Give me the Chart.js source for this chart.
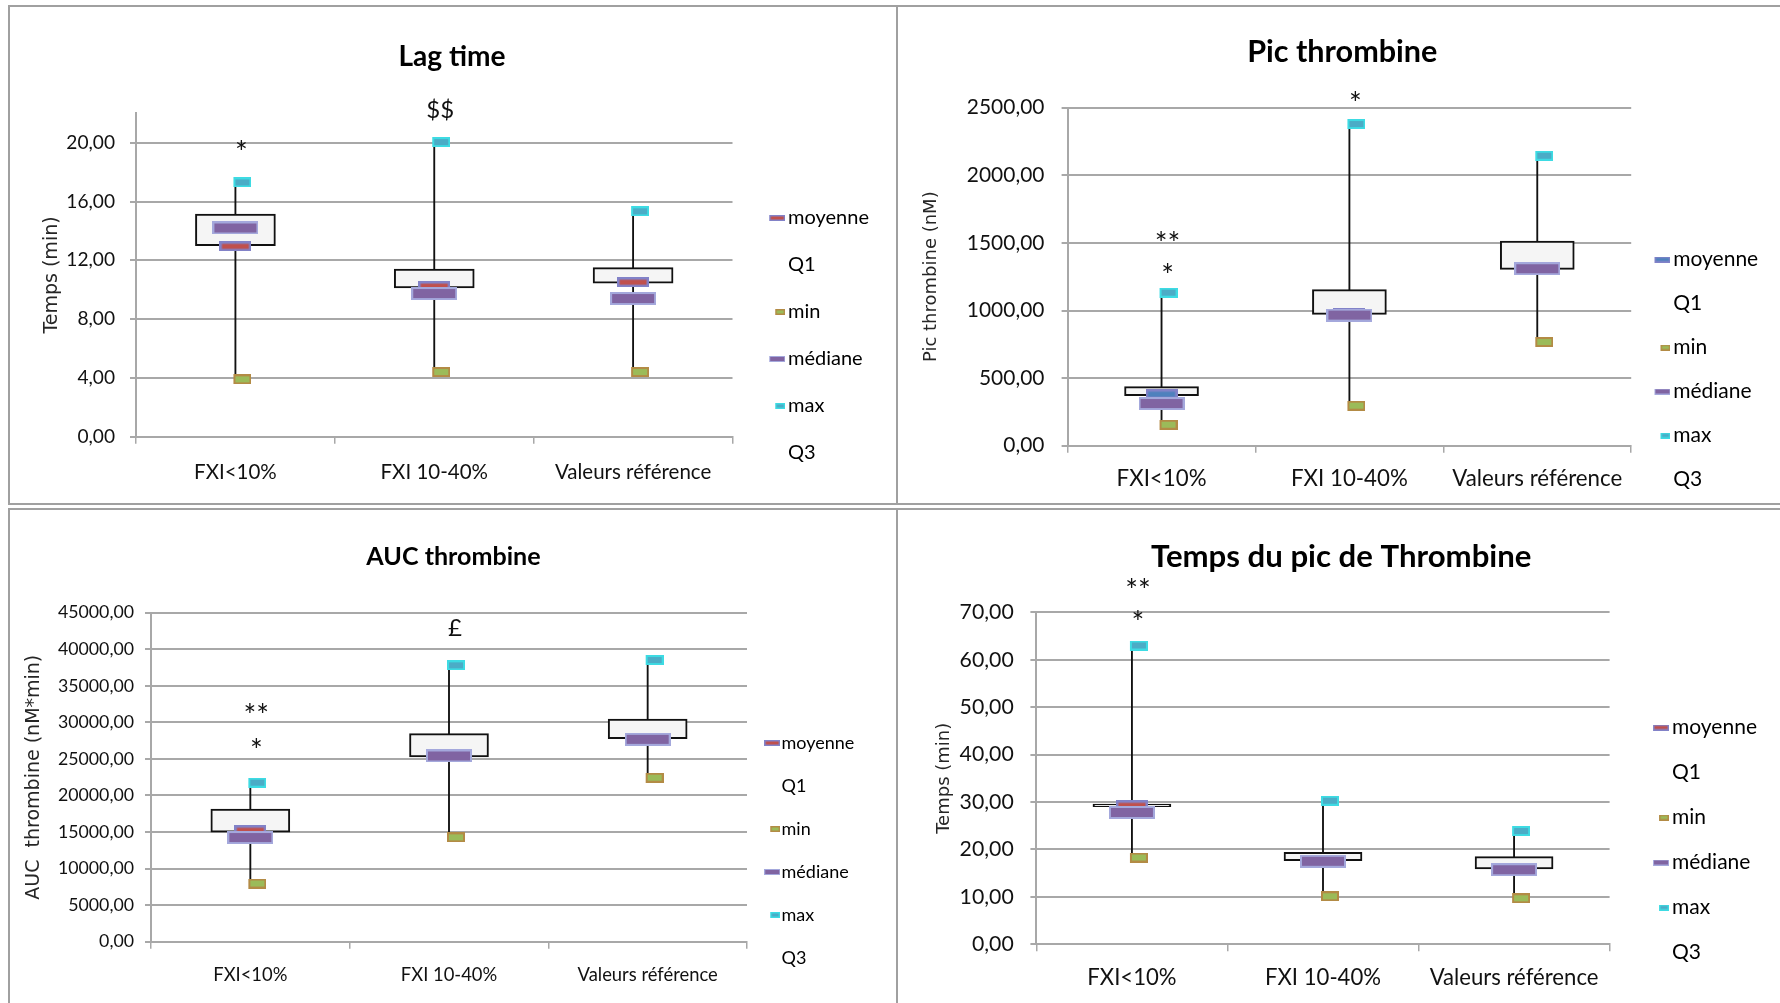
<!DOCTYPE html>
<html>
  <head>
    <meta charset="utf-8">
    <title>Génération de thrombine</title>
    <style>
      body {
        margin: 0;
        width: 1780px;
        height: 1003px;
        overflow: hidden;
        position: relative;
        background: #fff;
      }
      .panel {
        position: absolute;
        overflow: hidden;
      }
      .panel canvas {
        position: absolute;
        left: 0;
        top: 0;
      }
      .frame {
        position: absolute;
        box-sizing: border-box;
        border: 2px solid #a0a0a0;
        pointer-events: none;
      }
    </style>
  </head>
  <body>
    <div class="panel" style="left:9px;top:6px;width:888px;height:498px"><canvas id="lag"></canvas></div>
    <div class="panel" style="left:897px;top:6px;width:901px;height:498px"><canvas id="pic"></canvas></div>
    <div class="panel" style="left:9px;top:509px;width:888px;height:500px"><canvas id="auc"></canvas></div>
    <div class="panel" style="left:897px;top:509px;width:901px;height:500px"><canvas id="ttp"></canvas></div>
    <div class="frame" style="left:8px;top:5px;width:890px;height:500px"></div>
    <div class="frame" style="left:896px;top:5px;width:900px;height:500px"></div>
    <div class="frame" style="left:8px;top:508px;width:890px;height:600px"></div>
    <div class="frame" style="left:896px;top:508px;width:900px;height:600px"></div>

    <script src="https://cdn.jsdelivr.net/npm/chart.js@4.4.1/dist/chart.umd.min.js"></script>
    <script>
      const categories = ['FXI<10%', 'FXI 10-40%', 'Valeurs référence'];
      const legendNames = ['moyenne', 'Q1', 'min', 'médiane', 'max', 'Q3'];

      // Lag time (min)
      const lagMin = [3.9, 4.4, 4.4];
      const lagQ1 = [13.0, 10.12, 10.44];
      const lagQ3 = [15.15, 11.41, 11.5];
      const lagMax = [17.3, 20.04, 15.33];
      const lagMean = [12.95, 10.24, 10.51];
      const lagMedian = [14.2, 9.74, 9.4];
      const lagNoteCat = [0, 1];
      const lagNoteText = ['*', '$$'];
      const lagNoteY = [19.77, 22.3];

      // Pic thrombine (nM)
      const picMin = [155, 296, 767];
      const picQ1 = [370, 971, 1304];
      const picQ3 = [437, 1154, 1514];
      const picMax = [1132, 2379, 2145];
      const picMean = [381, 979, 1324];
      const picMedian = [312, 966, 1309];
      const picNoteCat = [0, 0, 1];
      const picNoteText = ['**', '*', '*'];
      const picNoteY = [1546, 1312, 2581];

      // AUC thrombine (nM*min)
      const aucMin = [7960, 14270, 22430];
      const aucQ1 = [14970, 25260, 27770];
      const aucQ3 = [18150, 28450, 30460];
      const aucMax = [21750, 37800, 38530];
      const aucMean = [15240, 25440, 27720];
      const aucMedian = [14250, 25400, 27680];
      const aucNoteCat = [0, 0, 1];
      const aucNoteText = ['**', '*', '£'];
      const aucNoteY = [31830, 27140, 42950];

      // Temps du pic (min)
      const ttpMin = [18.3, 10.12, 9.7];
      const ttpQ1 = [29.0, 17.63, 15.87];
      const ttpQ3 = [29.55, 19.39, 18.47];
      const ttpMax = [63.0, 30.27, 23.88];
      const ttpMean = [29.3, 17.6, 15.8];
      const ttpMedian = [27.8, 17.5, 15.73];
      const ttpNoteCat = [0, 0];
      const ttpNoteText = ['**', '*'];
      const ttpNoteY = [76.0, 69.2];

      const LATO = "Lato, 'Liberation Sans', sans-serif";
      const WIDE = "'DejaVu Sans', Verdana, sans-serif";
      const INK = '#111';
      const GRID = '#a8a8a8';
      const PURPLE = '#8064a2';
      const PURPLE_EDGE = '#a4a8dc';
      const MEAN_EDGE = '#8282c8';
      const RED = '#c0504d';
      const BLUE = '#4f81bd';
      const MAX_FILL = '#4bacc6';
      const MAX_EDGE = '#3ddbe3';
      const MIN_FILL = '#9bbb59';
      const MIN_EDGE = '#b38b45';

      const measurer = document.createElement('canvas').getContext('2d');
      // font size that gives `text` the width seen in the picture
      function fitSize(text, weight, target) {
        measurer.font = (weight ? weight + ' ' : '') + '100px ' + LATO;
        return 100 * target / measurer.measureText(text).width;
      }

      function rectImg(w, h, fill, stroke, lw, shift) {
        const c = document.createElement('canvas');
        c.width = w + 2 * shift;
        c.height = h;
        const g = c.getContext('2d');
        const x0 = 2 * shift;
        g.fillStyle = stroke;
        g.fillRect(x0, 0, w, h);
        g.fillStyle = fill;
        g.fillRect(x0 + lw, lw, w - 2 * lw, h - 2 * lw);
        return c;
      }

      function legImg(w, h, fill, stroke, lw, imgW) {
        const c = document.createElement('canvas');
        c.width = imgW;
        c.height = h;
        if (!fill) return c;
        const g = c.getContext('2d');
        const x0 = imgW - w;
        g.fillStyle = stroke;
        g.fillRect(x0, 0, w, h);
        g.fillStyle = fill;
        g.fillRect(x0 + lw, lw, w - 2 * lw, h - 2 * lw);
        return c;
      }

      const notesPlugin = {
        id: 'notes',
        afterDatasetsDraw(chart, args, opts) {
          const {ctx} = chart;
          const x = chart.scales.x, y = chart.scales.y;
          ctx.save();
          ctx.fillStyle = INK;
          ctx.textAlign = 'center';
          ctx.textBaseline = 'alphabetic';
          opts.cats.forEach((c, i) => {
            const t = opts.texts[i];
            const star = t.includes('*');
            const size = star ? 30 : 24;
            ctx.font = size + 'px ' + LATO;
            const lift = star ? 0.58 : 0.36;
            ctx.fillText(t, x.getPixelForValue(c) + opts.dx, y.getPixelForValue(opts.values[i]) + lift * size);
          });
          ctx.restore();
        }
      };

      function boxChart(id, d, g) {
        const canvas = document.getElementById(id);
        canvas.width = g.W;
        canvas.height = g.H;
        const titleSize = 1.04 * fitSize(d.title, 'bold', g.titleW);
        const tickSize = 1.06 * fitSize(g.tickText, '', g.tickW);
        const catSize = 1.04 * fitSize(categories[2], '', g.catW);
        const fs = Math.round(fitSize('moyenne', '', g.legendW));

        const m = canvas.getContext('2d');
        m.font = fs + 'px ' + LATO;
        const textW = Math.max(m.measureText('moyenne').width, m.measureText('médiane').width);
        const half = fs / 2;
        const pad = g.legendStep - fs;
        const bw = Math.max(0.5, g.legendX - g.right - pad - half);
        const legendW = 10 + pad + bw + half + textW;
        const padRight = g.W - g.right - legendW;
        const padLeft = 2 * g.titleX - g.right - legendW;
        const padBottom = Math.round(g.H - (g.legendLast + pad + half));
        const axisW = g.left - padLeft;
        const axisH = g.H - padBottom - g.bottom;
        const tLH = 1.2 * titleSize;

        const imgW = Math.max(16, Math.round(bw + fs - 6));
        const legendImgs = [
          legImg(16, 6, g.meanFill, MEAN_EDGE, 1.5, imgW),
          legImg(16, 6, null, null, 0, imgW),
          legImg(10, 6, MIN_FILL, MIN_EDGE, 1.5, imgW),
          legImg(16, 6, PURPLE, PURPLE_EDGE, 1, imgW),
          legImg(10, 6, MAX_FILL, MAX_EDGE, 1.5, imgW),
          legImg(16, 6, null, null, 0, imgW)
        ];

        const point = (label, data, img, order) => ({
          type: 'line', label, data, showLine: false,
          pointStyle: img, pointRadius: 6, order, clip: false
        });

        return new Chart(canvas, {
          type: 'bar',
          data: {
            labels: categories,
            datasets: [
              { type: 'bar', label: 'whisker', data: d.min.map((v, i) => [v, d.max[i]]),
                backgroundColor: '#111', barThickness: 1.2, grouped: false, order: 10 },
              { type: 'bar', label: 'box', data: d.q1.map((v, i) => [v, d.q3[i]]),
                backgroundColor: '#f5f5f5', borderColor: '#111', borderWidth: 2,
                borderSkipped: false, barThickness: g.boxW, grouped: false, order: 9 },
              point('min', d.min, rectImg(18, 10, MIN_FILL, MIN_EDGE, 2, 7), 4),
              point('max', d.max, rectImg(18, 10, MAX_FILL, MAX_EDGE, 2, 7), 3),
              point('moyenne', d.mean, rectImg(32, 10, g.meanFill, MEAN_EDGE, 2.5, 0), 2),
              point('médiane', d.median, rectImg(46, 13, PURPLE, PURPLE_EDGE, 2, 0), 1)
            ]
          },
          options: {
            responsive: false,
            animation: false,
            events: [],
            devicePixelRatio: 1,
            layout: { padding: { left: padLeft, right: padRight, top: 0, bottom: padBottom } },
            scales: {
              x: {
                offset: true,
                grid: { offset: true, drawOnChartArea: false, color: GRID, lineWidth: 1.5, tickLength: 7 },
                border: { color: GRID, width: 2 },
                ticks: {
                  font: { family: LATO, size: catSize }, color: INK,
                  padding: g.catY - g.bottom - 7 - 0.6 * catSize,
                  maxRotation: 0, autoSkip: false
                },
                afterFit: s => { s.height = axisH; }
              },
              y: {
                min: 0,
                max: d.yMax,
                grid: { color: GRID, lineWidth: 2, tickLength: 6 },
                border: { color: GRID, width: 2 },
                ticks: {
                  stepSize: d.yStep, includeBounds: false,
                  font: { family: LATO, size: tickSize }, color: INK,
                  padding: g.yTickGap - 6,
                  callback: v => v.toFixed(2).replace('.', ',')
                },
                title: {
                  display: true, text: d.yTitle, color: '#262626',
                  font: { family: WIDE, size: g.yTitleSize },
                  padding: { top: g.yTitleX - padLeft - 0.6 * g.yTitleSize, bottom: 0 }
                },
                afterFit: s => { s.width = axisW; }
              }
            },
            plugins: {
              title: {
                display: true, text: d.title, color: '#000',
                font: { family: LATO, size: titleSize, weight: 'bold' },
                padding: { top: g.titleY - tLH / 2, bottom: g.top - g.titleY - tLH / 2 }
              },
              legend: {
                position: 'right',
                align: 'end',
                labels: {
                  usePointStyle: true,
                  pointStyleWidth: bw,
                  padding: pad,
                  color: INK,
                  font: { family: LATO, size: fs },
                  generateLabels: () => legendNames.map((t, i) => ({
                    text: t, pointStyle: legendImgs[i], fillStyle: 'transparent',
                    strokeStyle: 'transparent', lineWidth: 0, hidden: false, datasetIndex: 0
                  }))
                }
              },
              tooltip: { enabled: false },
              notes: { cats: d.noteCat, texts: d.noteText, values: d.noteY, dx: 6 }
            }
          },
          plugins: [notesPlugin]
        });
      }

      boxChart('lag', {
        title: 'Lag time', yTitle: 'Temps (min)', yMax: 22, yStep: 4,
        min: lagMin, q1: lagQ1, q3: lagQ3, max: lagMax, mean: lagMean, median: lagMedian,
        noteCat: lagNoteCat, noteText: lagNoteText, noteY: lagNoteY
      }, {
        W: 888, H: 498, left: 127, right: 723.5, top: 107.3, bottom: 430.7,
        titleX: 443, titleY: 51, titleW: 103,
        yTitleX: 43, yTitleSize: 19, yTickGap: 21, tickText: '20,00', tickW: 46,
        catY: 466, catW: 150.4, boxW: 80,
        legendX: 779, legendLast: 447, legendStep: 47, legendW: 79.8, meanFill: RED
      });

      boxChart('pic', {
        title: 'Pic thrombine', yTitle: 'Pic thrombine (nM)', yMax: 2500, yStep: 500,
        min: picMin, q1: picQ1, q3: picQ3, max: picMax, mean: picMean, median: picMedian,
        noteCat: picNoteCat, noteText: picNoteText, noteY: picNoteY
      }, {
        W: 901, H: 520, left: 170.6, right: 734.2, top: 101.7, bottom: 439.7,
        titleX: 445.3, titleY: 46, titleW: 183,
        yTitleX: 33.9, yTitleSize: 18, yTickGap: 23.2, tickText: '2500,00', tickW: 73.2,
        catY: 473, catW: 163.5, boxW: 74,
        legendX: 776.2, legendLast: 474, legendStep: 44, legendW: 85.1, meanFill: BLUE
      });

      boxChart('auc', {
        title: 'AUC thrombine', yTitle: 'AUC  thrombine (nM*min)', yMax: 45000, yStep: 5000,
        min: aucMin, q1: aucQ1, q3: aucQ3, max: aucMax, mean: aucMean, median: aucMedian,
        noteCat: aucNoteCat, noteText: aucNoteText, noteY: aucNoteY
      }, {
        W: 888, H: 500, left: 142, right: 738, top: 103.7, bottom: 432.7,
        titleX: 444.5, titleY: 48, titleW: 167.6,
        yTitleX: 25, yTitleSize: 19, yTickGap: 17, tickText: '45000,00', tickW: 71.8,
        catY: 466, catW: 134.9, boxW: 79,
        legendX: 771, legendLast: 449, legendStep: 43, legendW: 72.3, meanFill: RED
      });

      boxChart('ttp', {
        title: 'Temps du pic de Thrombine', yTitle: 'Temps (min)', yMax: 70, yStep: 10,
        min: ttpMin, q1: ttpQ1, q3: ttpQ3, max: ttpMax, mean: ttpMean, median: ttpMedian,
        noteCat: ttpNoteCat, noteText: ttpNoteText, noteY: ttpNoteY
      }, {
        W: 901, H: 500, left: 139.4, right: 712.6, top: 103.3, bottom: 435.3,
        titleX: 444.2, titleY: 48, titleW: 366,
        yTitleX: 46.9, yTitleSize: 18, yTickGap: 22.7, tickText: '70,00', tickW: 51.1,
        catY: 469, catW: 162.3, boxW: 78,
        legendX: 775, legendLast: 444, legendStep: 45, legendW: 84.6, meanFill: RED
      });
    </script>
  </body>
</html>
